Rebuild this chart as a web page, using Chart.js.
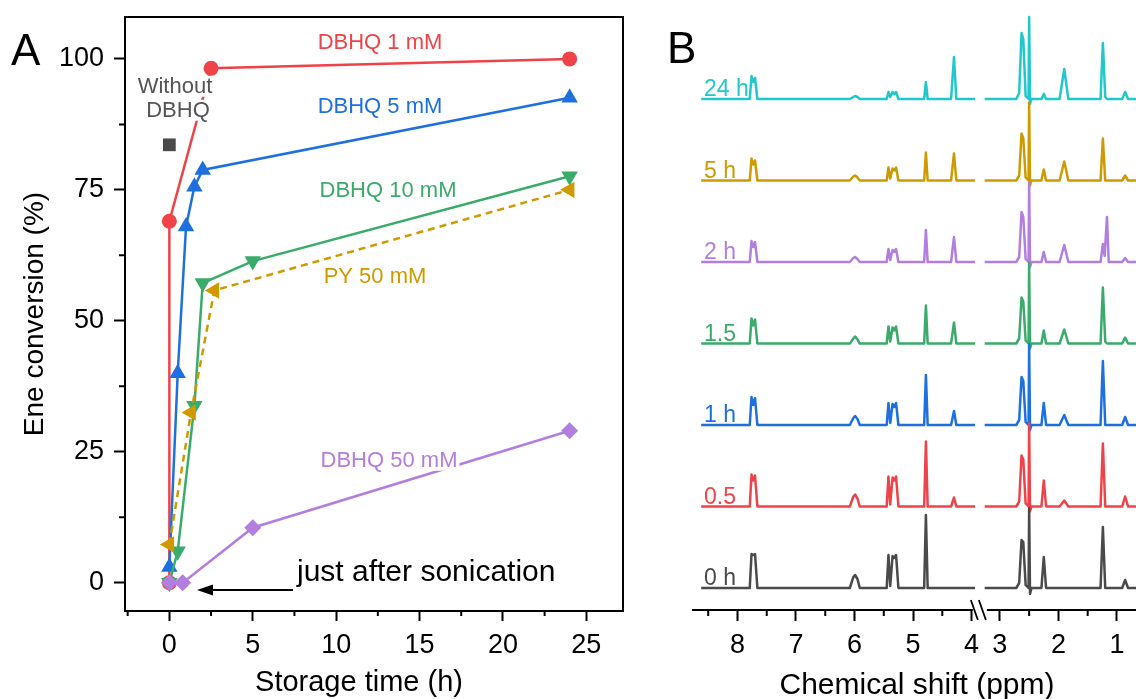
<!DOCTYPE html>
<html><head><meta charset="utf-8">
<script src="https://cdn.jsdelivr.net/npm/chart.js@4.4.1/dist/chart.umd.min.js"></script>
<style>
html,body{margin:0;padding:0;background:#fff;overflow:hidden;width:1136px;height:699px;}
#wrapA{position:absolute;left:0;top:0;width:640px;height:699px;}
#wrapB{position:absolute;left:640px;top:0;width:496px;height:699px;}
</style></head><body>
<div id="wrapA"><canvas id="cA" width="640" height="699"></canvas></div>
<div id="wrapB"><canvas id="cB" width="496" height="699"></canvas></div>
<script>
// ---------- Panel A data (storage time h, ene conversion %) ----------
const timeDBHQ1  = [0, 0, 2.5, 24];
const convDBHQ1  = [0, 69, 98.2, 100];
const timeDBHQ5  = [0, 0.5, 1, 1.5, 2, 24];
const convDBHQ5  = [3, 40, 68, 75.6, 78.8, 92.6];
const timeDBHQ10 = [0, 0.5, 1.5, 2, 5, 24];
const convDBHQ10 = [0, 6, 33.8, 57.2, 61.4, 77.6];
const timePY50   = [0, 1.3, 2.7, 24];
const convPY50   = [7.3, 32.5, 55.8, 75];
const timeDBHQ50 = [0, 0.8, 5, 24];
const convDBHQ50 = [0, 0, 10.5, 29];
const timeNoDBHQ = [0];
const convNoDBHQ = [83.6];
const A_X_TICKS = [0, 5, 10, 15, 20, 25];
const A_Y_TICKS = [0, 25, 50, 75, 100];
const A_X_MINOR = [-2.5, 2.5, 7.5, 12.5, 17.5, 22.5];
const A_Y_MINOR = [12.5, 37.5, 62.5, 87.5];

// ---------- Panel B data: 1H NMR spectra [ppm, intensity a.u.] ----------
const spec0h = [[8.62,0],[7.79,0],[7.76,34],[7.73,33],[7.70,34],[7.66,0],[6.08,0],[6.02,11],[5.99,13],[5.95,9],[5.91,0],[5.45,0],[5.42,33],[5.39,2],[5.35,32],[5.32,30],[5.29,33],[5.25,0],[4.81,0],[4.78,73],[4.75,0],[3.94,0],[3.6,null],[3.26,0],[2.72,0],[2.67,5],[2.63,48],[2.60,46],[2.56,3],[2.51,0],[2.50,80],[2.485,-6],[2.46,0],[2.29,0],[2.25,31],[2.21,0],[1.28,0],[1.24,61],[1.20,0],[0.91,0],[0.86,8],[0.81,0],[0.67,0]];
const spec05h = [[8.62,0],[7.79,0],[7.76,32],[7.73,26],[7.70,31],[7.66,0],[6.08,0],[6.02,10],[5.99,12],[5.95,8],[5.91,0],[5.45,0],[5.42,30],[5.39,2],[5.35,29],[5.32,26],[5.29,30],[5.25,0],[4.81,0],[4.78,65],[4.75,0],[4.35,0],[4.30,9],[4.26,0],[3.94,0],[3.6,null],[3.26,0],[2.72,0],[2.67,5],[2.63,51],[2.60,47],[2.56,3],[2.51,0],[2.50,83],[2.485,-5],[2.46,0],[2.29,0],[2.25,26],[2.21,0],[1.98,0],[1.90,6],[1.83,0],[1.28,0],[1.24,63],[1.20,0],[0.91,0],[0.86,10],[0.81,0],[0.67,0]];
const spec1h = [[8.62,0],[7.79,0],[7.76,28],[7.73,20],[7.70,27],[7.66,0],[6.08,0],[6.02,7],[5.99,9],[5.95,6],[5.91,0],[5.45,0],[5.42,22],[5.39,2],[5.35,21],[5.32,18],[5.29,22],[5.25,0],[4.81,0],[4.78,50],[4.75,0],[4.35,0],[4.30,14],[4.26,0],[3.94,0],[3.6,null],[3.26,0],[2.72,0],[2.67,5],[2.63,48],[2.60,44],[2.56,3],[2.51,0],[2.50,81],[2.485,-5],[2.46,0],[2.29,0],[2.25,22],[2.21,0],[1.98,0],[1.90,10],[1.83,0],[1.28,0],[1.24,64],[1.20,0],[0.91,0],[0.86,8],[0.81,0],[0.67,0]];
const spec15h = [[8.62,0],[7.79,0],[7.76,25],[7.73,18],[7.70,24],[7.66,0],[6.08,0],[6.02,5],[5.99,7],[5.95,4],[5.91,0],[5.45,0],[5.42,17],[5.39,2],[5.35,16],[5.32,13],[5.29,17],[5.25,0],[4.81,0],[4.78,38],[4.75,0],[4.35,0],[4.30,21],[4.26,0],[3.94,0],[3.6,null],[3.26,0],[2.72,0],[2.67,5],[2.63,46],[2.60,42],[2.56,3],[2.51,0],[2.50,81],[2.485,-5],[2.46,0],[2.29,0],[2.25,13],[2.21,0],[1.98,0],[1.90,14],[1.83,0],[1.28,0],[1.24,56],[1.20,2],[1.17,0],[0.91,0],[0.86,6],[0.81,0],[0.67,0]];
const spec2h = [[8.62,0],[7.79,0],[7.76,21],[7.73,15],[7.70,20],[7.66,0],[6.08,0],[6.02,4],[5.99,5],[5.95,3],[5.91,0],[5.45,0],[5.42,13],[5.39,2],[5.35,12],[5.32,10],[5.29,13],[5.25,0],[4.81,0],[4.78,32],[4.75,0],[4.35,0],[4.30,25],[4.26,0],[3.94,0],[3.6,null],[3.26,0],[2.72,0],[2.67,5],[2.63,50],[2.60,45],[2.56,3],[2.51,0],[2.50,80],[2.485,-5],[2.46,0],[2.29,0],[2.25,10],[2.21,0],[1.98,0],[1.90,17],[1.83,0],[1.28,0],[1.24,18],[1.21,6],[1.17,45],[1.14,0],[0.91,0],[0.86,4],[0.81,0],[0.67,0]];
const spec5h = [[8.62,0],[7.79,0],[7.76,22],[7.73,16],[7.70,20],[7.66,0],[6.08,0],[6.02,4],[5.99,5],[5.95,3],[5.91,0],[5.45,0],[5.42,13],[5.39,2],[5.35,12],[5.32,10],[5.29,13],[5.25,0],[4.81,0],[4.78,28],[4.75,0],[4.35,0],[4.30,27],[4.26,0],[3.94,0],[3.6,null],[3.26,0],[2.72,0],[2.67,5],[2.63,47],[2.60,42],[2.56,3],[2.51,0],[2.50,78],[2.485,-5],[2.46,0],[2.29,0],[2.25,11],[2.21,0],[1.98,0],[1.90,19],[1.83,0],[1.28,0],[1.24,42],[1.20,0],[0.91,0],[0.86,5],[0.81,0],[0.67,0]];
const spec24h = [[8.62,0],[7.79,0],[7.76,23],[7.73,17],[7.70,21],[7.66,0],[6.08,0],[6.02,2],[5.99,3],[5.95,2],[5.91,0],[5.45,0],[5.42,7],[5.39,2],[5.35,7],[5.32,5],[5.29,7],[5.25,0],[4.81,0],[4.78,17],[4.75,0],[4.35,0],[4.30,42],[4.26,0],[3.94,0],[3.6,null],[3.26,0],[2.72,0],[2.67,6],[2.63,66],[2.60,60],[2.56,3],[2.51,0],[2.50,82],[2.485,-5],[2.46,0],[2.29,0],[2.25,5],[2.21,0],[1.98,0],[1.90,30],[1.83,0],[1.28,0],[1.24,56],[1.20,2],[1.17,0],[0.91,0],[0.86,7],[0.81,0],[0.67,0]];
const SPECTRA = [spec0h, spec05h, spec1h, spec15h, spec2h, spec5h, spec24h];
const SPECTRA_LABELS = ['0 h', '0.5', '1 h', '1.5', '2 h', '5 h', '24 h'];
const B_TICK_PPM = [8, 7, 6, 5, 4, 3, 2, 1];
const B_MINOR_PPM = [8.5, 7.5, 6.5, 5.5, 4.5, 2.5, 1.5];

// ---------- styles ----------
const FONT = "'Liberation Sans', Arial, Helvetica, sans-serif";
const RED = '#ef4349', BLUE = '#1e6fdf', GREEN = '#3aab6b', GOLD = '#cf9a00',
      PURPLE = '#b27edf', GRAY = '#4a4a4a', CYAN = '#20c8cb';
const SPEC_COLORS = [GRAY, RED, BLUE, GREEN, PURPLE, GOLD, CYAN];

function pts(xs, ys) { return xs.map((x, i) => ({x: x, y: ys[i]})); }
function series(label, xs, ys, color, style, radius, rot, dash) {
  return {label, data: pts(xs, ys), showLine: true, borderColor: color, backgroundColor: color,
    borderWidth: 2.5, borderDash: dash || [], pointStyle: style, pointRadius: radius,
    pointHoverRadius: radius, pointRotation: rot, pointBorderWidth: 0, clip: false};
}

function textBg(ctx, text, x, y, color, size, align) {
  ctx.font = size + 'px ' + FONT;
  const w = ctx.measureText(text).width;
  const lx = align === 'center' ? x - w / 2 : x;
  ctx.fillStyle = '#fff';
  ctx.fillRect(lx - 2, y - size * 0.78, w + 4, size * 0.95);
  ctx.fillStyle = color;
  ctx.textAlign = 'left';
  ctx.textBaseline = 'alphabetic';
  ctx.fillText(text, lx, y);
}
function noScalePad(s) { s.paddingTop = 0; s.paddingBottom = 0; s.paddingLeft = 0; s.paddingRight = 0; }

const plugA = {
  id: 'plugA',
  afterDatasetsDraw(chart) {
    const ctx = chart.ctx;
    ctx.save();
    textBg(ctx, 'DBHQ 1 mM', 380, 49, RED, 22, 'center');
    textBg(ctx, 'DBHQ 5 mM', 380, 113, BLUE, 22, 'center');
    textBg(ctx, 'DBHQ 10 mM', 388, 197, GREEN, 22, 'center');
    textBg(ctx, 'PY 50 mM', 375, 283, GOLD, 22, 'center');
    textBg(ctx, 'DBHQ 50 mM', 389, 467, PURPLE, 22, 'center');
    textBg(ctx, 'Without', 175, 93, '#555', 22, 'center');
    textBg(ctx, 'DBHQ', 178, 117, '#555', 22, 'center');
    ctx.restore();
  },
  afterDraw(chart) {
    const {ctx, chartArea: a, scales: {x, y}} = chart;
    ctx.save();
    ctx.strokeStyle = '#000';
    ctx.lineWidth = 2;
    ctx.beginPath();
    ctx.moveTo(a.left, a.top); ctx.lineTo(a.right, a.top); ctx.lineTo(a.right, a.bottom);
    ctx.stroke();
    ctx.beginPath();
    A_X_MINOR.forEach(v => { const px = x.getPixelForValue(v); ctx.moveTo(px, a.bottom); ctx.lineTo(px, a.bottom + 5); });
    A_Y_MINOR.forEach(v => { const py = y.getPixelForValue(v); ctx.moveTo(a.left, py); ctx.lineTo(a.left - 6, py); });
    ctx.stroke();
    // arrow
    ctx.lineWidth = 2;
    ctx.beginPath(); ctx.moveTo(293, 590); ctx.lineTo(208, 590); ctx.stroke();
    ctx.fillStyle = '#000';
    ctx.beginPath(); ctx.moveTo(197, 590); ctx.lineTo(213, 584.5); ctx.lineTo(213, 595.5); ctx.closePath(); ctx.fill();
    ctx.font = '30px ' + FONT; ctx.textBaseline = 'alphabetic'; ctx.textAlign = 'left';
    ctx.fillText('just after sonication', 297, 581);
    ctx.font = '44px ' + FONT;
    ctx.fillText('A', 11, 65);
    // x-axis title
    ctx.font = '29px ' + FONT; ctx.textAlign = 'center';
    ctx.fillText('Storage time (h)', 359, 691);
    ctx.restore();
  }
};

new Chart(document.getElementById('cA'), {
  type: 'scatter',
  data: {datasets: [
    series('DBHQ 50 mM', timeDBHQ50, convDBHQ50, PURPLE, 'rectRot', 8.5, 0),
    series('PY 50 mM', timePY50, convPY50, GOLD, 'triangle', 9.5, -90, [7, 5]),
    series('DBHQ 10 mM', timeDBHQ10, convDBHQ10, GREEN, 'triangle', 9.5, 180),
    series('DBHQ 5 mM', timeDBHQ5, convDBHQ5, BLUE, 'triangle', 9.5, 0),
    series('DBHQ 1 mM', timeDBHQ1, convDBHQ1, RED, 'circle', 7.5, 0),
    {label: 'Without DBHQ', data: pts(timeNoDBHQ, convNoDBHQ), showLine: false, pointStyle: 'rect',
     pointRadius: 9, backgroundColor: GRAY, borderWidth: 0, pointBorderWidth: 0}
  ]},
  options: {
    responsive: false, animation: false, devicePixelRatio: 1,
    layout: {padding: {left: 0, right: 17, top: 17, bottom: 0}},
    plugins: {legend: {display: false}, tooltip: {enabled: false}},
    scales: {
      x: {type: 'linear', min: -2.66, max: 27.2,
        afterBuildTicks: s => { s.ticks = A_X_TICKS.map(v => ({value: v})); },
        afterFit: s => { s.height = 88; noScalePad(s); },
        grid: {drawOnChartArea: false, drawTicks: true, tickLength: 10, tickWidth: 2, tickColor: '#000'},
        border: {display: true, color: '#000', width: 2},
        ticks: {font: {family: FONT, size: 27}, color: '#000', padding: 8, maxRotation: 0, autoSkip: false},
        title: {display: false}
      },
      y: {type: 'linear', min: -5.4, max: 108,
        afterBuildTicks: s => { s.ticks = A_Y_TICKS.map(v => ({value: v})); },
        afterFit: s => { s.width = 125; noScalePad(s); },
        grid: {drawOnChartArea: false, drawTicks: true, tickLength: 11, tickWidth: 2, tickColor: '#000'},
        border: {display: true, color: '#000', width: 2},
        ticks: {font: {family: FONT, size: 27}, color: '#000', padding: 10, autoSkip: false},
        title: {display: true, text: 'Ene conversion (%)', color: '#000', font: {family: FONT, size: 28}, padding: {top: 18, bottom: 0}}
      }
    }
  },
  plugins: [plugA]
});

// ---------- Panel B ----------
const AXIS_BREAK_PPM = 3.6;
const AXIS_BREAK_SHIFT = 0.516;
function toAxis(ppm) { return ppm >= AXIS_BREAK_PPM ? ppm : ppm + AXIS_BREAK_SHIFT; }
const STACK_BASE = 22, STACK_STEP = 81.5;

const plugB = {
  id: 'plugB',
  afterDraw(chart) {
    const {ctx, chartArea: a, scales: {x}} = chart;
    ctx.save();
    ctx.strokeStyle = '#000'; ctx.lineWidth = 2;
    ctx.beginPath();
    B_MINOR_PPM.forEach(p => { const px = x.getPixelForValue(toAxis(p)); ctx.moveTo(px, a.bottom); ctx.lineTo(px, a.bottom + 6); });
    ctx.stroke();
    // axis break
    const bx = x.getPixelForValue((3.94 + 3.26 + AXIS_BREAK_SHIFT) / 2);
    ctx.fillStyle = '#fff';
    ctx.fillRect(bx - 7, a.bottom - 3, 14, 6);
    ctx.lineWidth = 1.8;
    ctx.beginPath();
    ctx.moveTo(bx - 9, a.bottom - 10); ctx.lineTo(bx - 2, a.bottom + 10);
    ctx.moveTo(bx - 1, a.bottom - 10); ctx.lineTo(bx + 6, a.bottom + 10);
    ctx.stroke();
    // labels
    ctx.textAlign = 'left'; ctx.textBaseline = 'alphabetic';
    ctx.font = '23px ' + FONT;
    SPECTRA_LABELS.forEach((t, i) => {
      ctx.fillStyle = SPEC_COLORS[i];
      ctx.fillText(t, 704 - 640, a.bottom - (STACK_BASE + STACK_STEP * i) - 3);
    });
    ctx.fillStyle = '#000';
    ctx.font = '44px ' + FONT;
    ctx.fillText('B', 667 - 640, 63);
    ctx.font = '30px ' + FONT; ctx.textAlign = 'center';
    ctx.fillText('Chemical shift (ppm)', 917 - 640, 694);
    ctx.restore();
  }
};

new Chart(document.getElementById('cB'), {
  type: 'scatter',
  data: {datasets: SPECTRA.map((s, i) => ({
    label: SPECTRA_LABELS[i],
    data: s.map(([p, v]) => ({x: toAxis(p), y: v === null ? null : v + STACK_BASE + STACK_STEP * i})),
    showLine: true, spanGaps: false, borderColor: SPEC_COLORS[i], borderWidth: 2.5,
    pointRadius: 0, pointHoverRadius: 0, clip: false, borderJoinStyle: 'round'
  }))},
  options: {
    responsive: false, animation: false, devicePixelRatio: 1,
    layout: {padding: {left: 53, right: 0, top: 0, bottom: 0}},
    plugins: {legend: {display: false}, tooltip: {enabled: false}},
    scales: {
      x: {type: 'linear', reverse: true, min: 1.19, max: 8.76,
        afterBuildTicks: s => { s.ticks = B_TICK_PPM.map(p => ({value: toAxis(p)})); },
        afterFit: s => { s.height = 89; noScalePad(s); },
        grid: {drawOnChartArea: false, drawTicks: true, tickLength: 11, tickWidth: 2, tickColor: '#000'},
        border: {display: true, color: '#000', width: 2},
        ticks: {font: {family: FONT, size: 27}, color: '#000', padding: 8, maxRotation: 0, autoSkip: false,
          callback: (v, i) => String(B_TICK_PPM[i])},
        title: {display: false}
      },
      y: {type: 'linear', display: false, min: 0, max: 610}
    }
  },
  plugins: [plugB]
});
</script>
</body></html>
